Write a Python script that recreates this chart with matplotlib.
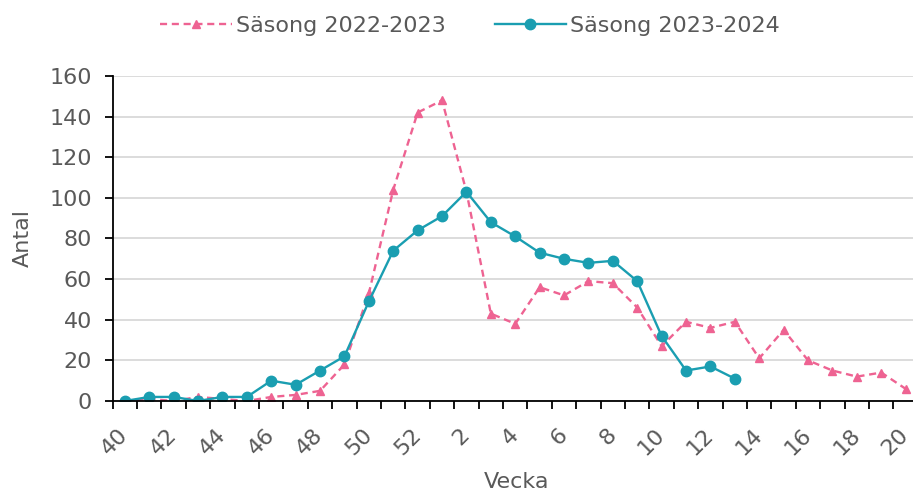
import numpy as np
import matplotlib.pyplot as plt
from matplotlib.ticker import FixedLocator

# weeks 40-52 then 1-20
weeks = list(range(40, 53)) + list(range(1, 21))

season_22_23 = [0, 1, 0, 2, 1, 0, 2, 3, 5, 18, 53, 104, 142, 148, 103, 43, 38, 56, 52,
                59, 58, 46, 27, 39, 36, 39, 21, 35, 20, 15, 12, 14, 6]
season_23_24 = [0, 2, 2, 0, 2, 2, 10, 8, 15, 22, 49, 74, 84, 91, 103, 88, 81, 73, 70,
                68, 69, 59, 32, 15, 17, 11]

pink = '#EE6392'
teal = '#1A9EB1'
grey = '#595959'
fs = 16

fig = plt.figure(figsize=(9.13, 4.95), dpi=100)
ax = fig.add_axes([0.1234, 0.1899, 0.8819, 0.6566])

x1 = np.arange(len(season_22_23))
x2 = np.arange(len(season_23_24))

ax.plot(x1, season_22_23, color=pink, lw=1.7, ls=(0, (3, 2)), marker='^', ms=5.5,
        label='Säsong 2022-2023', zorder=3)
ax.plot(x2, season_23_24, color=teal, lw=1.7, marker='o', ms=7.5,
        label='Säsong 2023-2024', zorder=4)

ax.set_xlim(-0.5, len(weeks) - 0.5)
ax.set_ylim(0, 160)
ax.set_yticks(range(0, 161, 20))

ax.set_xticks(x1[::2])
ax.set_xticklabels([str(w) for w in weeks[::2]], rotation=45, ha='right', va='center',
                   rotation_mode='anchor')
ax.xaxis.set_minor_locator(FixedLocator(np.arange(-0.5, len(weeks), 1)))
ax.tick_params(axis='x', which='major', length=0, pad=22, labelsize=fs, labelcolor=grey)
ax.tick_params(axis='x', which='minor', length=6, width=1.3, direction='out', color='black')
ax.tick_params(axis='y', length=6, width=1.3, direction='out', labelsize=fs, labelcolor=grey, pad=9)

ax.grid(axis='y', color='#D9D9D9', lw=1.3)
ax.set_axisbelow(True)
for s in ['top', 'right']:
    ax.spines[s].set_visible(False)
for s in ['left', 'bottom']:
    ax.spines[s].set_linewidth(1.3)
    ax.spines[s].set_color('black')
    ax.spines[s].set_zorder(5)

ax.set_ylabel('Antal', fontsize=fs, color=grey, va='center')
ax.yaxis.set_label_coords(-0.112, 0.5)
ax.set_xlabel('Vecka', fontsize=fs, color=grey, va='center')
ax.xaxis.set_label_coords(0.502, -0.249)

fig.legend(loc='upper center', bbox_to_anchor=(0.515, 1.008), ncol=2, frameon=False,
           fontsize=fs, labelcolor=grey, handlelength=3.2, columnspacing=2.2, handletextpad=0.2)

fig.savefig('out.png', dpi=100)
